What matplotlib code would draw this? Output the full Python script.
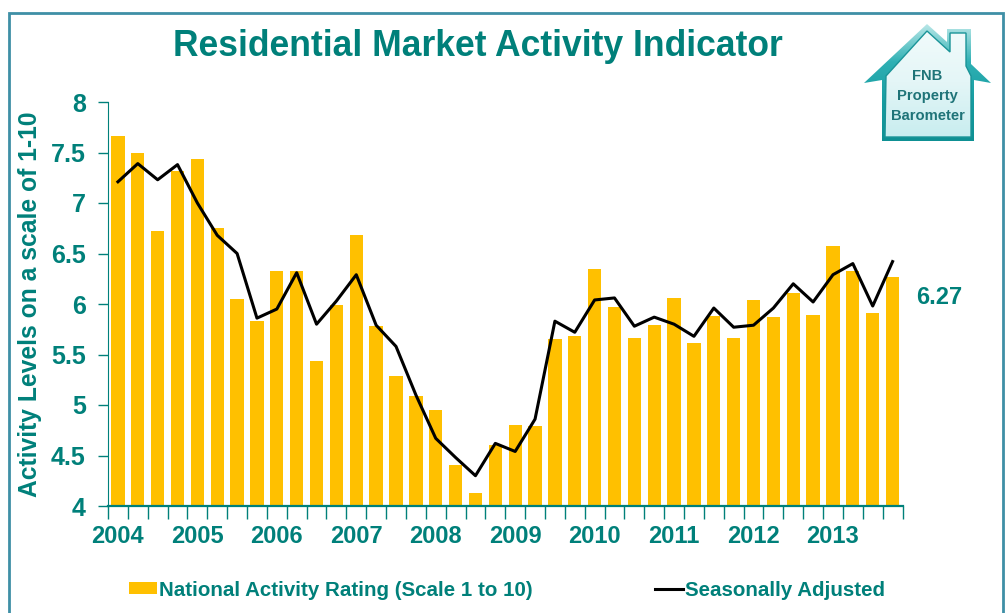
import numpy as np
import matplotlib
matplotlib.use('Agg')
import matplotlib.pyplot as plt
from matplotlib.colors import LinearSegmentedColormap
from matplotlib.patches import Polygon, Rectangle

plt.rcParams['font.family'] = ['Liberation Sans', 'DejaVu Sans']
plt.rcParams['font.weight'] = 'bold'
plt.rcParams['axes.labelweight'] = 'bold'

years = ['2004', '2005', '2006', '2007', '2008', '2009', '2010', '2011', '2012', '2013']
activity = [7.66, 7.50, 6.72, 7.32, 7.44, 6.75, 6.05, 5.83, 6.33, 6.33,
            5.44, 5.99, 6.68, 5.78, 5.29, 5.09, 4.95, 4.41, 4.13, 4.60,
            4.80, 4.79, 5.65, 5.68, 6.35, 5.97, 5.66, 5.79, 6.06, 5.61,
            5.88, 5.66, 6.04, 5.87, 6.11, 5.89, 6.57, 6.33, 5.91, 6.27]
seasonal = [7.21, 7.39, 7.23, 7.38, 7.00, 6.68, 6.50, 5.86, 5.95, 6.31,
            5.80, 6.03, 6.29, 5.79, 5.58, 5.10, 4.67, 4.48, 4.30, 4.62,
            4.54, 4.86, 5.83, 5.72, 6.04, 6.06, 5.78, 5.87, 5.80, 5.68,
            5.96, 5.77, 5.79, 5.96, 6.20, 6.02, 6.29, 6.40, 5.98, 6.42]
y_ticks = [4, 4.5, 5, 5.5, 6, 6.5, 7, 7.5, 8]
y_labels = ['4', '4.5', '5', '5.5', '6', '6.5', '7', '7.5', '8']

teal = '#00807A'
W, H = 1007, 613

fig = plt.figure(figsize=(W / 100, H / 100), dpi=100)
ax = fig.add_axes([108 / W, 1 - 506 / H, (902.5 - 108) / W, (506 - 102) / H])

x = np.arange(len(activity))
bars = ax.bar(x, activity, width=0.67, color='#FFC000', label='National Activity Rating (Scale 1 to 10)')
line, = ax.plot(x, seasonal, color='black', lw=2.2, label='Seasonally Adjusted')

ax.set_xlim(-0.5, len(activity) - 0.5)
ax.set_ylim(4, 8)
ax.set_yticks(y_ticks)
ax.set_yticklabels(y_labels)
ax.set_xticks(np.arange(-0.5, len(activity), 1))
ax.set_xticklabels([])
ax.set_xticks(np.arange(len(years)) * 4, labels=years, minor=True)
ax.tick_params(axis='x', which='major', length=9, width=1, color=teal)
ax.tick_params(axis='x', which='minor', length=0, pad=14, labelsize=17, labelcolor=teal)
ax.tick_params(axis='y', length=7, width=1, color=teal, labelsize=18, labelcolor=teal, pad=9)
for s in ['top', 'right']:
    ax.spines[s].set_visible(False)
ax.spines['left'].set_color(teal)
ax.spines['bottom'].set_color(teal)
ax.spines['bottom'].set_linewidth(1.6)

fig.text(30 / W, 1 - 304.5 / H, 'Activity Levels on a scale of 1-10', color=teal, fontsize=17.7,
         rotation=90, ha='center', va='center')

fig.text(477.5 / W, 1 - 47 / H, 'Residential Market Activity Indicator', color=teal,
         fontsize=25.6, ha='center', va='center')
ax.annotate(f'{activity[-1]:.2f}', (len(activity) - 1, activity[-1]), xytext=(916 / W, 1 - 298 / H),
            textcoords='figure fraction', color=teal, fontsize=17, va='center', ha='left')

fig.legend(handles=[bars, line], loc='center left', bbox_to_anchor=(129 / W, 1 - 590 / H),
           ncol=2, frameon=False, fontsize=14.8, labelcolor=teal, handlelength=1.35,
           handletextpad=0.12, columnspacing=5.95, handleheight=0.55, borderpad=0, borderaxespad=0)

# page border, runs off the bottom edge
fig.add_artist(Rectangle((8.5 / W, -0.05), (1003 - 8.5) / W, 1.05 - 12.5 / H, transform=fig.transFigure,
                         fill=False, ec='#3F8FA6', lw=2))

# FNB logo, in pixel coordinates
logo = fig.add_axes([0, 0, 1, 1], facecolor='none')
logo.axis('off')
outer = [(864, 83), (927, 24), (947, 42), (947, 29), (971, 29), (971, 64), (991, 83), (974, 80),
         (974, 141), (882, 141), (882, 80)]
inner = [(886, 76), (927, 31), (950, 52), (950, 33), (966, 33), (966, 66), (971, 76), (971, 137), (885, 137)]
grad = np.linspace(0, 1, 100).reshape(-1, 1)
im = logo.imshow(grad, extent=(860, 995, 145, 20), aspect='auto', zorder=2,
                 cmap=LinearSegmentedColormap.from_list('logo', ['#C5ECEC', '#2FB0B4', '#159CA0', '#0E8F92']))
im.set_clip_path(Polygon(outer, transform=logo.transData))
im2 = logo.imshow(grad, extent=(860, 995, 145, 20), aspect='auto', zorder=3,
                  cmap=LinearSegmentedColormap.from_list('logo2', ['#F4FCFC', '#E4F6F7', '#C4ECEE']))
im2.set_clip_path(Polygon(inner, transform=logo.transData))
logo.add_patch(Polygon(inner, fill=False, ec='#1A9498', lw=1, zorder=3))
logo.set_xlim(0, W)
logo.set_ylim(H, 0)
for ty, t in [(76, 'FNB'), (96, 'Property'), (116, 'Barometer')]:
    logo.text(927.5, ty, t, color='#1F7478', fontsize=10.6, ha='center', va='center', zorder=4)

fig.savefig('out.png', dpi=100)
